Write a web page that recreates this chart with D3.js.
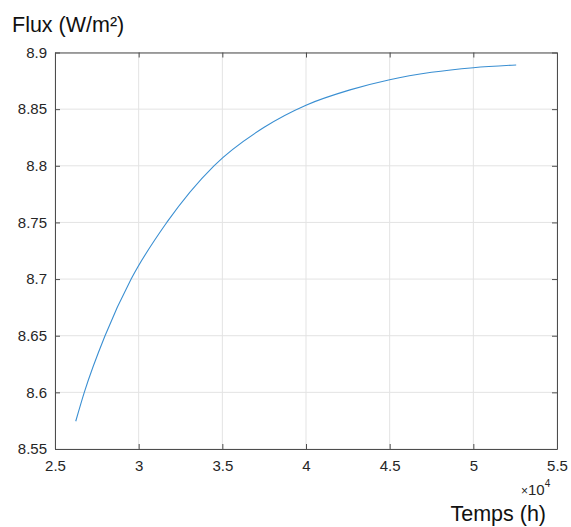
<!DOCTYPE html>
<html><head><meta charset="utf-8">
<script src="https://cdn.jsdelivr.net/npm/d3@7"></script>
<style>body{margin:0;background:#fff}svg{display:block}text{font-family:"Liberation Sans",Arial,sans-serif}</style>
</head><body><svg id="c" width="571" height="527"></svg>
<script>
// Time (hours) and flux (W/m²)
const timeHours = [26240, 26750, 27990, 29550, 31680, 34500, 37500, 40000, 42630, 45000, 47500, 50000, 52560];
const fluxValues = [8.5745, 8.600, 8.650, 8.700, 8.750, 8.800, 8.834, 8.8535, 8.867, 8.876, 8.8825, 8.8866, 8.889];
const xTicks = [25000, 30000, 35000, 40000, 45000, 50000, 55000];
const xTickLabels = ["2.5", "3", "3.5", "4", "4.5", "5", "5.5"];
const yTicks = [8.55, 8.6, 8.65, 8.7, 8.75, 8.8, 8.85, 8.9];
const yTickLabels = ["8.55", "8.6", "8.65", "8.7", "8.75", "8.8", "8.85", "8.9"];
const yLabel = "Flux (W/m²)";
const xLabel = "Temps (h)";

const svg = d3.select("#c");
const L = 55, R = 557, T = 52.5, B = 449;
const x = d3.scaleLinear().domain([25000, 55000]).range([L, R]);
const y = d3.scaleLinear().domain([8.55, 8.9]).range([B, T]);
const axisColor = "#4d4d4d", textColor = "#262626";

// grid
const g = svg.append("g");
g.selectAll("line.vx").data(xTicks).join("line")
  .attr("x1", d => x(d)).attr("x2", d => x(d)).attr("y1", T).attr("y2", B)
  .attr("stroke", "#e3e3e3").attr("stroke-width", 1);
g.selectAll("line.hy").data(yTicks).join("line")
  .attr("y1", d => y(d)).attr("y2", d => y(d)).attr("x1", L).attr("x2", R)
  .attr("stroke", "#e3e3e3").attr("stroke-width", 1);

// curve
const line = d3.line().x((d, i) => x(timeHours[i])).y(d => y(d)).curve(d3.curveMonotoneX);
svg.append("path").attr("d", line(fluxValues)).attr("fill", "none")
  .attr("stroke", "#3a8fd2").attr("stroke-width", 1.1);

// axes
const fmtX = (d, i) => xTickLabels[i];
const fmtY = (d, i) => yTickLabels[i];
const styleAxis = (sel) => {
  sel.select(".domain").attr("stroke", axisColor);
  sel.selectAll(".tick line").attr("stroke", axisColor);
  sel.selectAll("text").attr("fill", textColor).style("font-size", "15px")
     .style("font-family", '"Liberation Sans",Arial,sans-serif');
};
svg.append("g").attr("transform", `translate(0,${B})`)
  .call(d3.axisBottom(x).tickValues(xTicks).tickFormat(fmtX).tickSizeInner(-5).tickSizeOuter(0).tickPadding(11))
  .call(styleAxis);
svg.append("g").attr("transform", `translate(0,${T})`)
  .call(d3.axisTop(x).tickValues(xTicks).tickFormat("").tickSizeInner(-5).tickSizeOuter(0))
  .call(styleAxis);
svg.append("g").attr("transform", `translate(${L},0)`)
  .call(d3.axisLeft(y).tickValues(yTicks).tickFormat(fmtY).tickSizeInner(-5).tickSizeOuter(0).tickPadding(8))
  .call(styleAxis);
svg.append("g").attr("transform", `translate(${R},0)`)
  .call(d3.axisRight(y).tickValues(yTicks).tickFormat("").tickSizeInner(-5).tickSizeOuter(0))
  .call(styleAxis);

// labels
svg.append("text").attr("x", 12).attr("y", 32).attr("fill", "#111")
  .style("font-size", "21.5px").text(yLabel);
svg.append("text").attr("x", 546).attr("y", 521).attr("text-anchor", "end").attr("fill", "#111")
  .style("font-size", "21.5px").text(xLabel);
const mult = svg.append("text").attr("x", 521).attr("y", 495).attr("fill", textColor).style("font-size", "15px");
mult.append("tspan").text("×").style("font-size", "12px");
mult.append("tspan").attr("dx", 0).text("10");
mult.append("tspan").attr("dy", -8).style("font-size", "10px").text("4");
</script></body></html>
